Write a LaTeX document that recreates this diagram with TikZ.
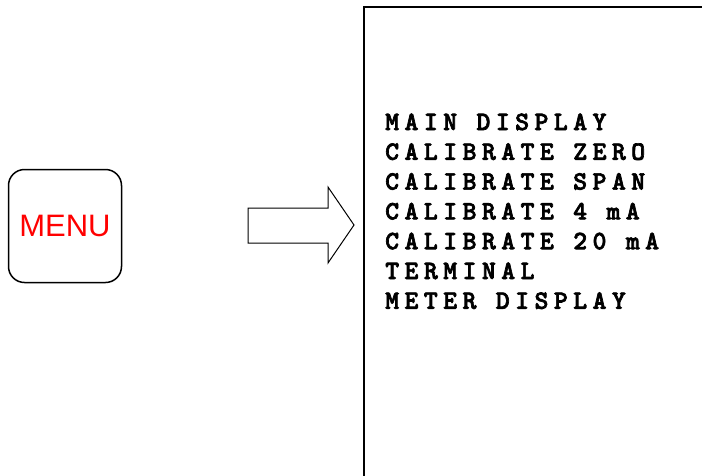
\documentclass[tikz,border=0pt]{standalone}
\usepackage{fontspec}
\setmainfont{Liberation Sans}
\newfontfamily\menumono[LetterSpace=20.5,FakeBold=2.5]{lmmonolt10-bold.otf}
\begin{document}
\begin{tikzpicture}[x=1pt,y=-1pt,
  menuline/.style={anchor=base west,inner sep=0pt,font=\menumono\fontsize{26.5}{30}\selectfont},
  outline/.style={draw=black,line width=1.5pt}]
\useasboundingbox (0,0) rectangle (702,475);
\begin{scope}
\clip (0,0) rectangle (702,475);
\draw[outline] (364,7) rectangle (720,490);
\end{scope}
\node[outline,rounded corners=16pt,minimum width=113pt,minimum height=113pt,
  font=\fontsize{31}{36}\selectfont,text=red] (menu) at (65,226) {MENU};
\draw[line width=1pt,line join=miter] (248,208) coordinate (a1) -- (328,208) -- (328,187) -- (354,225) coordinate (tip)
  -- (328,263) -- (328,243) -- (248,243) -- cycle;
\foreach \t [count=\i from 0] in {MAIN DISPLAY,CALIBRATE ZERO,CALIBRATE SPAN,CALIBRATE 4 mA,CALIBRATE 20 mA,TERMINAL,METER DISPLAY}{
  \node[menuline] (l\i) at (385,130+29.8*\i) {\t};
}
\end{tikzpicture}
\end{document}
